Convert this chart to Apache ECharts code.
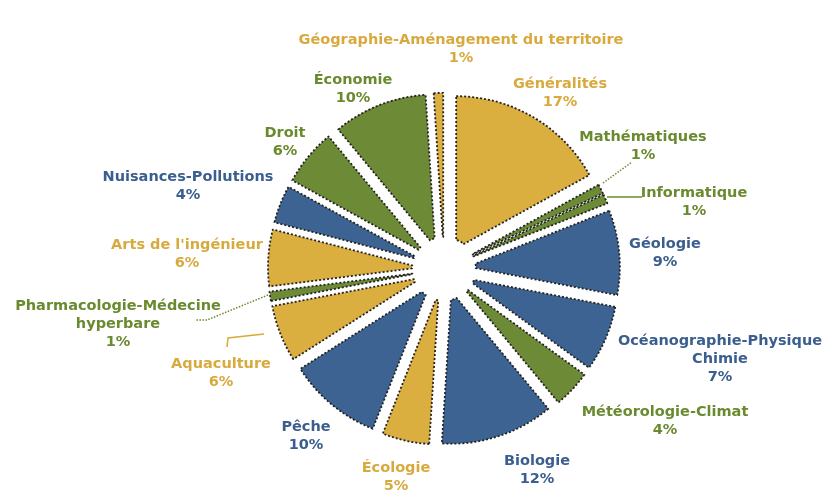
<!DOCTYPE html>
<html>
<head>
<meta charset="utf-8">
<script src="https://cdn.jsdelivr.net/npm/echarts@6/dist/echarts.min.js"></script>
<style>
  html, body { margin: 0; padding: 0; background: #fff; }
  #chart { width: 826px; height: 497px; }
</style>
</head>
<body>
<div id="chart"></div>
<script>
const categories = [
  'Généralités', 'Mathématiques', 'Informatique', 'Géologie',
  'Océanographie-Physique\nChimie', 'Météorologie-Climat', 'Biologie', 'Écologie',
  'Pêche', 'Aquaculture', 'Pharmacologie-Médecine\nhyperbare', "Arts de l'ingénieur",
  'Nuisances-Pollutions', 'Droit', 'Économie', 'Géographie-Aménagement du territoire'
]
const shares = [17, 1, 1, 9, 7, 4, 12, 5, 10, 6, 1, 6, 4, 6, 10, 1]
const groups = [
  'gold', 'green', 'green', 'blue', 'blue', 'green', 'blue', 'gold',
  'blue', 'gold', 'green', 'gold', 'blue', 'green', 'green', 'gold'
]

const fill = { gold: '#dbae40', green: '#6d8a36', blue: '#3c6391' }
const ink = { gold: '#d8aa3e', green: '#6a8a2f', blue: '#3b5e8e' }

// label block centres (px)
const labelAt = [
  [560, 93], [643, 146], [694, 202], [665, 253], [720, 359], [665, 421], [537, 470], [396, 477],
  [306, 436], [221, 373], [118, 324], [187, 254], [188, 186], [285, 142], [353, 89], [461, 49]
]
// the few leader lines drawn in the original
const leaders = {
  1: { type: 'dotted', points: [[603, 183], [632, 162]] },
  2: { type: 'solid', points: [[607, 197], [642, 197]] },
  9: { type: 'solid', points: [[264, 334], [228, 338], [227, 347]] },
  10: { type: 'dotted', points: [[268, 295], [207, 320], [195, 320]] }
}

const chart = echarts.init(document.getElementById('chart'))

const center = ['53.75%', '54.1%']

// exploded pie: every slice selected so it is pushed out along its bisector
const slices = categories.map((name, i) => ({
  name,
  value: shares[i],
  selected: true,
  itemStyle: { color: fill[groups[i]] }
}))

// invisible twin that carries the labels, so they do not move with the slices
const labelled = categories.map((name, i) => {
  const lead = leaders[i]
  return {
    name,
    value: shares[i],
    label: { color: ink[groups[i]] },
    labelLine: lead
      ? { show: true, lineStyle: { type: lead.type, color: ink[groups[i]], width: 1.5 } }
      : { show: false }
  }
})

const outline = { borderColor: '#232323', borderWidth: 1.8, borderType: [2, 2] }

chart.setOption({
  animation: false,
  backgroundColor: '#fff',
  series: [
    {
      type: 'pie',
      center,
      radius: [8, 152],
      startAngle: 90,
      clockwise: true,
      selectedMode: 'multiple',
      selectedOffset: 24,
      silent: true,
      emphasis: { disabled: true },
      itemStyle: outline,
      select: { itemStyle: outline },
      label: { show: false },
      labelLine: { show: false },
      data: slices
    },
    {
      type: 'pie',
      center,
      radius: [8, 152],
      startAngle: 90,
      clockwise: true,
      silent: true,
      z: 3,
      avoidLabelOverlap: false,
      emphasis: { disabled: true },
      itemStyle: { color: 'rgba(0,0,0,0)', borderWidth: 0 },
      label: {
        show: true,
        position: 'outside',
        formatter: (p) => p.name + '\n' + p.value + '%',
        fontFamily: 'DejaVu Sans',
        fontWeight: 'bold',
        fontSize: 14.5,
        lineHeight: 18,
        align: 'center'
      },
      labelLine: { length: 10, length2: 10 },
      labelLayout: (params) => {
        const i = params.dataIndex
        const out = {
          x: labelAt[i][0],
          y: labelAt[i][1],
          align: 'center',
          verticalAlign: 'middle'
        }
        if (leaders[i]) out.labelLinePoints = leaders[i].points
        return out
      },
      data: labelled
    }
  ]
})
</script>
</body>
</html>
